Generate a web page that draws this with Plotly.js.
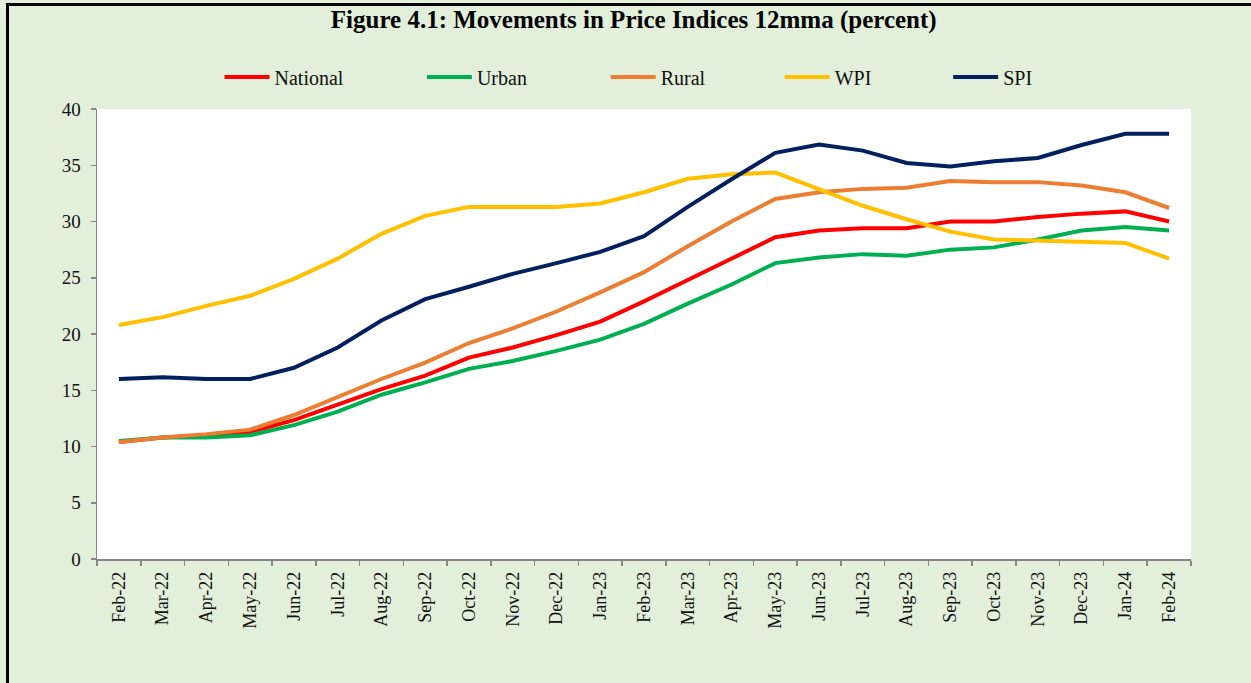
<!DOCTYPE html>
<html>
<head>
<meta charset="utf-8">
<script src="https://cdn.plot.ly/plotly-3.0.1.min.js"></script>
<style>
html,body{margin:0;padding:0;background:#E2EFDA;width:1251px;height:683px;overflow:hidden;}
#chart{position:absolute;left:6px;top:3px;width:1242px;height:677px;border-top:3px solid #000;border-left:3px solid #000;}
</style>
</head>
<body>
<div id="chart"></div>
<script>
const months = ["Feb-22","Mar-22","Apr-22","May-22","Jun-22","Jul-22","Aug-22","Sep-22","Oct-22","Nov-22","Dec-22","Jan-23","Feb-23","Mar-23","Apr-23","May-23","Jun-23","Jul-23","Aug-23","Sep-23","Oct-23","Nov-23","Dec-23","Jan-24","Feb-24"];
const national = [10.4,10.8,11.0,11.3,12.35,13.7,15.1,16.3,17.9,18.8,19.9,21.1,22.9,24.8,26.7,28.6,29.2,29.4,29.4,30.0,30.0,30.4,30.7,30.9,30.0];
const urban    = [10.5,10.8,10.8,11.0,11.9,13.1,14.6,15.7,16.9,17.6,18.5,19.5,20.9,22.7,24.4,26.3,26.8,27.1,26.95,27.5,27.7,28.4,29.2,29.5,29.2];
const rural    = [10.4,10.8,11.1,11.5,12.8,14.4,16.0,17.45,19.2,20.5,22.0,23.7,25.5,27.8,30.0,32.0,32.6,32.9,33.0,33.6,33.5,33.5,33.2,32.6,31.2];
const wpi      = [20.8,21.5,22.5,23.4,24.9,26.7,28.9,30.5,31.3,31.3,31.3,31.6,32.6,33.8,34.2,34.35,32.9,31.4,30.2,29.1,28.4,28.3,28.25,28.1,26.7];
const spi      = [16.0,16.15,16.0,16.0,17.0,18.8,21.2,23.1,24.2,25.35,26.3,27.3,28.7,31.3,33.75,36.1,36.85,36.3,35.2,34.9,35.35,35.65,36.8,37.8,37.8];

const names  = ["National","Urban","Rural","WPI","SPI"];
const series = [national, urban, rural, wpi, spi];
const colors = ["#FF0000","#00B050","#ED7D31","#FFC000","#002060"];
const legendX = [0.112, 0.297, 0.465, 0.624, 0.778];

const traces = series.map((s,i)=>({
  x: months, y: s, type:'scatter', mode:'lines', name: names[i],
  line:{color:colors[i], width:4},
  legend: i===0 ? 'legend' : 'legend'+(i+1)
}));

const serif = "'Liberation Serif', 'Times New Roman', serif";
const layout = {
  width:1242, height:677,
  paper_bgcolor:'#E2EFDA', plot_bgcolor:'#FFFFFF',
  margin:{l:88, r:60, t:103, b:124},
  title:{text:'<b>Figure 4.1: Movements in Price Indices 12mma (percent)</b>', font:{family:serif, size:25, color:'#000'}, x:0.503, xref:'container', y:0.981, yanchor:'middle'},
  xaxis:{type:'category', range:[-0.5,24.5], tickangle:-90, ticks:'outside', tickson:'boundaries', ticklen:5, tickcolor:'#868686', tickwidth:1.5,
         showline:true, linecolor:'#868686', linewidth:1.5, showgrid:false, zeroline:false, fixedrange:true, ticklabelstandoff:4,
         tickfont:{family:serif, size:18, color:'#111'}},
  yaxis:{range:[0,40], dtick:5, ticks:'outside', ticklen:5, tickcolor:'#868686', tickwidth:1.5,
         showline:true, linecolor:'#868686', linewidth:1.5, showgrid:false, zeroline:false, ticklabelstandoff:6,
         tickfont:{family:serif, size:19, color:'#111'}},
  showlegend:true
};
names.forEach((n,i)=>{
  const key = i===0 ? 'legend' : 'legend'+(i+1);
  layout[key] = {x:legendX[i], y:1.071, xanchor:'left', yanchor:'middle', orientation:'h', bgcolor:'rgba(0,0,0,0)',
    font:{family:serif, size:20, color:'#111'}, itemwidth:45, borderwidth:0};
});
Plotly.newPlot('chart', traces, layout, {displayModeBar:false, staticPlot:true});
</script>
</body>
</html>
